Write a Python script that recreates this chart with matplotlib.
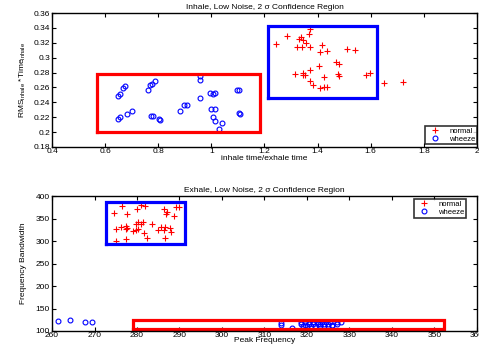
import matplotlib
matplotlib.use("Agg")
from matplotlib import pyplot as plt

plt.rcParams['font.family'] = ['Liberation Sans', 'DejaVu Sans']
plt.rcParams['mathtext.fontset'] = 'custom'
plt.rcParams['mathtext.rm'] = 'Liberation Sans'

# inhale features: ratio of inhale/exhale time vs RMS*time
inh_normal_x = [1.245, 1.285, 1.336, 1.331, 1.346, 1.355, 1.370, 1.366, 1.321, 1.342,
                1.372, 1.415, 1.411, 1.436, 1.509, 1.541, 1.470, 1.482, 1.404, 1.370,
                1.314, 1.344, 1.347, 1.353, 1.478, 1.479, 1.424, 1.373, 1.381, 1.411,
                1.426, 1.434, 1.581, 1.596, 1.650, 1.721]
inh_normal_y = [0.319, 0.329, 0.328, 0.325, 0.324, 0.320, 0.338, 0.332, 0.314, 0.315,
                0.314, 0.317, 0.308, 0.309, 0.312, 0.310, 0.294, 0.292, 0.289, 0.284,
                0.278, 0.280, 0.277, 0.277, 0.278, 0.275, 0.274, 0.269, 0.263, 0.259,
                0.260, 0.261, 0.277, 0.280, 0.266, 0.267]
inh_wheeze_x = [0.650, 0.656, 0.684, 0.700, 0.650, 0.656, 0.668, 0.674, 0.761, 0.770,
                0.775, 0.788, 0.774, 0.779, 0.804, 0.808, 0.883, 0.896, 0.908, 0.958,
                0.959, 0.958, 0.996, 1.005, 1.013, 1.000, 1.013, 1.006, 1.013, 1.042,
                1.029, 1.095, 1.104, 1.104, 1.108]
inh_wheeze_y = [0.217, 0.220, 0.224, 0.229, 0.248, 0.251, 0.259, 0.262, 0.257, 0.264,
                0.265, 0.269, 0.222, 0.222, 0.217, 0.216, 0.229, 0.236, 0.237, 0.270,
                0.275, 0.246, 0.253, 0.251, 0.252, 0.231, 0.231, 0.220, 0.215, 0.212,
                0.204, 0.256, 0.256, 0.226, 0.224]
# 2 sigma regions (xmin, xmax, ymin, ymax)
inh_normal_box = [1.215, 1.622, 0.246, 0.343]
inh_wheeze_box = [0.570, 1.183, 0.200, 0.278]

# exhale features: peak frequency vs bandwidth
exh_normal_x = [274.5, 276.5, 277.7, 280.9, 282.0, 280.1, 275.1, 276.2, 277.4, 277.5,
                277.7, 279.0, 279.8, 280.2, 279.8, 280.3, 280.9, 281.5, 283.6, 281.7,
                282.3, 277.4, 275.0, 285.0, 285.7, 286.3, 286.6, 287.7, 287.9, 286.4,
                287.1, 286.9, 288.7, 289.1, 289.8, 286.7]
exh_normal_y = [361.4, 377.7, 359.2, 379.2, 377.0, 370.3, 325.8, 330.2, 333.9, 327.2,
                329.5, 322.0, 324.3, 326.5, 336.9, 342.8, 338.4, 342.1, 336.9, 316.9,
                307.2, 303.5, 300.5, 325.0, 331.0, 323.5, 331.7, 329.5, 319.8, 371.0,
                365.1, 359.9, 354.7, 376.2, 374.8, 305.7]
exh_wheeze_x = [261.3, 264.2, 267.7, 269.5, 313.8, 313.8, 316.5,
                318.5, 319.5, 320.5, 321.5, 322.5, 323.5, 324.5, 325.5, 327.0, 328.0,
                318.5, 319.5, 320.5, 321.5, 322.5, 323.0, 324.0, 325.0, 326.0, 327.0,
                319.0, 320.0, 321.0, 322.0, 323.0, 324.0, 325.0, 326.0]
exh_wheeze_y = [123.1, 124.6, 120.9, 119.4, 118.0, 113.0, 107.0,
                120.0, 119.0, 120.0, 119.5, 120.0, 119.0, 120.0, 119.5, 121.0, 120.5,
                115.0, 114.0, 115.5, 114.5, 115.0, 116.0, 114.5, 115.0, 114.0, 116.0,
                111.0, 110.5, 111.5, 110.0, 111.0, 112.0, 110.5, 111.0]
exh_normal_box = [272.7, 291.3, 294.0, 386.6]
exh_wheeze_box = [279.0, 352.3, 105.3, 125.3]


def draw_box(ax, box, color):
    x0, x1, y0, y1 = box
    ax.plot([x0, x1, x1, x0, x0], [y0, y0, y1, y1, y0], color=color, lw=2.3,
            solid_joinstyle='miter')


def style_axes(ax):
    ax.tick_params(direction='in', top=True, right=True, labelsize=6,
                   length=3, width=0.8, pad=1.5)
    ax.tick_params(axis='x', pad=0.5)
    for s in ax.spines.values():
        s.set_linewidth(1.0)


fig = plt.figure(figsize=(4.79, 3.45), dpi=100)
ax1 = fig.add_axes([0.1086, 0.574, 0.887, 0.388])
ax2 = fig.add_axes([0.1086, 0.0406, 0.887, 0.391])

ax1.plot(inh_normal_x, inh_normal_y, '+', color='red', ms=4, mew=0.8, label='normal')
ax1.plot(inh_wheeze_x, inh_wheeze_y, 'o', color='blue', mfc='none', ms=3.5, mew=0.8,
         label='wheeze')
draw_box(ax1, inh_normal_box, 'blue')
draw_box(ax1, inh_wheeze_box, 'red')
ax1.set_xlim(0.4, 2)
ax1.set_ylim(0.18, 0.36)
ax1.set_xticks([0.4, 0.6, 0.8, 1, 1.2, 1.4, 1.6, 1.8, 2])
ax1.set_xticklabels(['0.4', '0.6', '0.8', '1', '1.2', '1.4', '1.6', '1.8', '2'])
ax1.set_yticks([0.18, 0.2, 0.22, 0.24, 0.26, 0.28, 0.3, 0.32, 0.34, 0.36])
ax1.set_yticklabels(['0.18', '0.2', '0.22', '0.24', '0.26', '0.28', '0.3', '0.32',
                     '0.34', '0.36'])
ax1.set_title('Inhale, Low Noise, 2 σ Confidence Region', fontsize=6, pad=3)
ax1.set_xlabel('inhale time/exhale time', fontsize=6, labelpad=0)
ax1.set_ylabel(r'RMS$_{\mathrm{inhale}}$ *Time$_{\mathrm{inhale}}$', fontsize=6, labelpad=4)
style_axes(ax1)
leg1 = ax1.legend(loc='lower right', bbox_to_anchor=(1.0, 0.02), fontsize=5.5,
                  frameon=True, fancybox=False, edgecolor='black', borderpad=0.2,
                  labelspacing=0.1, handlelength=2.2, borderaxespad=0, handletextpad=0.8)
leg1.get_frame().set_linewidth(1.2)

ax2.plot(exh_normal_x, exh_normal_y, '+', color='red', ms=4, mew=0.8, label='normal')
ax2.plot(exh_wheeze_x, exh_wheeze_y, 'o', color='blue', mfc='none', ms=3.5, mew=0.8,
         label='wheeze')
draw_box(ax2, exh_normal_box, 'blue')
draw_box(ax2, exh_wheeze_box, 'red')
ax2.set_xlim(260, 360)
ax2.set_ylim(100, 400)
ax2.set_xticks(range(260, 361, 10))
ax2.set_yticks(range(100, 401, 50))
ax2.set_title('Exhale, Low Noise, 2 σ Confidence Region', fontsize=6, pad=3)
ax2.set_xlabel('Peak Frequency', fontsize=6, labelpad=-1)
ax2.set_ylabel('Frequency Bandwidth', fontsize=6, labelpad=6)
style_axes(ax2)
leg2 = ax2.legend(loc='upper right', bbox_to_anchor=(0.974, 0.978), fontsize=5.5,
                  frameon=True, fancybox=False, edgecolor='black', borderpad=0.2,
                  labelspacing=0.1, handlelength=2.2, borderaxespad=0, handletextpad=0.8)
leg2.get_frame().set_linewidth(1.2)

fig.savefig('out.png', dpi=100)
